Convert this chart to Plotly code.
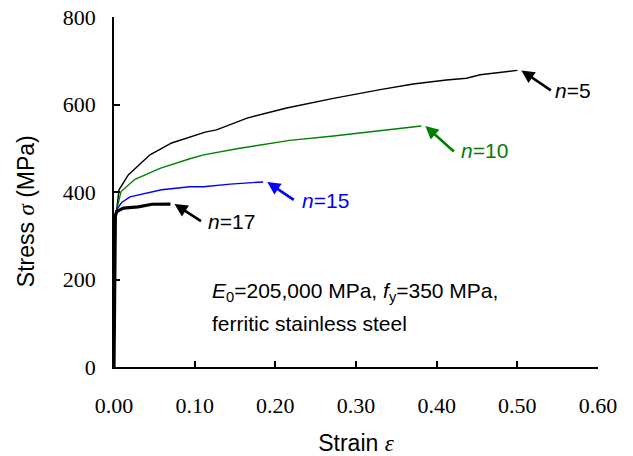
import plotly.graph_objects as go

# Stress-strain curves (strain, stress in MPa) for different n values
strain_n5 = [0, 0.0017, 0.0033, 0.0062, 0.0177, 0.0446, 0.0715, 0.094, 0.113, 0.127,
             0.165, 0.214, 0.272, 0.330, 0.371, 0.412, 0.437, 0.454, 0.500]
stress_n5 = [0, 350, 359, 405, 439, 485, 512, 525, 537, 542,
             569, 592, 614, 634, 647, 656, 660, 668, 678]

strain_n10 = [0, 0.0017, 0.0033, 0.0087, 0.026, 0.057, 0.094, 0.111, 0.156, 0.218,
              0.272, 0.330, 0.342, 0.381]
stress_n10 = [0, 350, 359, 401, 429, 454, 476, 485, 500, 518,
              528, 540, 543, 551]

strain_n15 = [0, 0.0017, 0.0033, 0.0095, 0.0198, 0.059, 0.094, 0.111, 0.144, 0.165, 0.185]
stress_n15 = [0, 350, 360, 376, 389, 405, 412, 412, 418, 420, 423]

strain_n17 = [0, 0.0017, 0.0033, 0.0115, 0.030, 0.047, 0.070]
stress_n17 = [0, 345, 355, 363, 366, 372, 372.5]

x_ticks = [0.0, 0.1, 0.2, 0.3, 0.4, 0.5, 0.6]
y_ticks = [0, 200, 400, 600, 800]

SANS = "Arial, Liberation Sans, sans-serif"
SERIF = "Times New Roman, Liberation Serif, serif"

# name, strain, stress, colour, line width, arrow tail offset (px), label offset (px)
curves = [
    ("n=5", strain_n5, stress_n5, "black", 1.4, (31, 21), (32, -20)),
    ("n=10", strain_n10, stress_n10, "#008000", 1.4, (30, 27), (34, -25)),
    ("n=15", strain_n15, stress_n15, "#0000ff", 1.4, (28, 19), (33, -19)),
    ("n=17", strain_n17, stress_n17, "black", 3.2, (28, 18), (31, -17)),
]

fig = go.Figure()
annotations = []
for name, xs, ys, color, width, tail, label_shift in curves:
    fig.add_trace(go.Scatter(x=xs, y=ys, mode="lines", name=name,
                             line=dict(color=color, width=width), showlegend=False))
    head_x = xs[-1] + 0.005
    head_y = ys[-1]
    annotations.append(dict(x=head_x, y=head_y, xref="x", yref="y", text="",
                            showarrow=True, arrowhead=2, arrowsize=1, arrowwidth=2.6,
                            arrowcolor=color, ax=tail[0], ay=tail[1], standoff=0))
    n_val = name.split("=")[1]
    annotations.append(dict(x=head_x, y=head_y, xref="x", yref="y",
                            text=f"<i>n</i>={n_val}", showarrow=False,
                            xanchor="left", yanchor="middle",
                            xshift=label_shift[0], yshift=label_shift[1],
                            font=dict(family=SANS, size=21, color=color)))

annotations.append(dict(x=0.119, y=172, xref="x", yref="y", showarrow=False,
                        xanchor="left", yanchor="middle",
                        text="<i>E</i><sub>0</sub>=205,000 MPa, <i>f</i><sub>y</sub>=350 MPa,",
                        font=dict(family=SANS, size=21, color="black")))
annotations.append(dict(x=0.119, y=100, xref="x", yref="y", showarrow=False,
                        xanchor="left", yanchor="middle",
                        text="ferritic stainless steel",
                        font=dict(family=SANS, size=21, color="black")))

# vertical axis title
annotations.append(dict(x=-0.182, y=0.445, xref="paper", yref="paper", showarrow=False,
                        xanchor="center", yanchor="middle", textangle=-90,
                        text="Stress <span style=\"font-family:Liberation Serif\"><i>σ</i></span> (MPa)",
                        font=dict(family=SANS, size=23, color="black")))

fig.update_layout(
    template="none",
    width=633, height=456,
    margin=dict(l=114, r=35, t=17, b=89),
    paper_bgcolor="white", plot_bgcolor="white",
    annotations=annotations,
    xaxis=dict(
        range=[0, 0.6], tickvals=x_ticks, tickformat=".2f",
        ticks="inside", ticklen=6, tickwidth=1.5, tickcolor="black",
        showline=True, linecolor="black", linewidth=1.5,
        showgrid=False, zeroline=False, automargin=False,
        tickfont=dict(family=SERIF, size=22, color="black"),
        ticklabelstandoff=18,
        title=dict(text="Strain <span style=\"font-family:Liberation Serif\"><i>ε</i></span>",
                   font=dict(family=SANS, size=23, color="black"), standoff=18),
    ),
    yaxis=dict(
        range=[0, 800], tickvals=y_ticks,
        ticks="inside", ticklen=6, tickwidth=1.5, tickcolor="black",
        showline=True, linecolor="black", linewidth=1.5,
        showgrid=False, zeroline=False, automargin=False,
        tickfont=dict(family=SERIF, size=22, color="black"),
        ticklabelstandoff=12,
    ),
)

fig.write_html("out.html")
